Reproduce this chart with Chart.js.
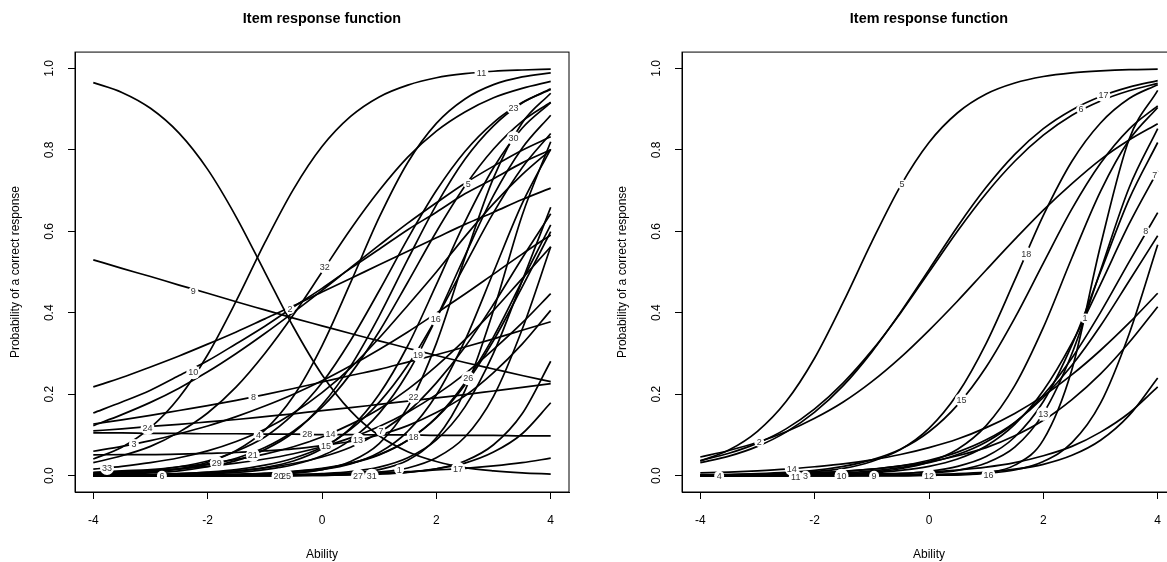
<!DOCTYPE html>
<html>
<head>
<meta charset="utf-8">
<script src="https://cdn.jsdelivr.net/npm/chart.js@4.4.1/dist/chart.umd.min.js"></script>
<style>
  html, body { margin: 0; padding: 0; background: #fff; }
  body { width: 1167px; height: 562px; overflow: hidden; position: relative; }
  canvas { position: absolute; top: 0; }
  #left { left: 0; }
  #right { left: 607px; }
</style>
</head>
<body>
<canvas id="left" width="583" height="562"></canvas>
<canvas id="right" width="583" height="562"></canvas>
<script>
const abilityGrid = [-4, -3.5, -3, -2.5, -2, -1.5, -1, -0.5, 0, 0.5, 1, 1.5, 2, 2.5, 3, 3.5, 4];
const xTicks = [-4, -2, 0, 2, 4];
const yTicks = [0, 0.2, 0.4, 0.6, 0.8, 1];

// left panel, items 1..33 (probability at each abilityGrid point)
const leftCurves = [
  [0.000, 0.000, 0.000, 0.000, 0.000, 0.000, 0.000, 0.001, 0.002, 0.004, 0.009, 0.019, 0.044, 0.095, 0.195, 0.359, 0.562], // 1
  [0.965, 0.941, 0.902, 0.841, 0.752, 0.635, 0.500, 0.365, 0.248, 0.159, 0.098, 0.059, 0.035, 0.020, 0.012, 0.007, 0.004], // 2
  [0.060, 0.072, 0.086, 0.103, 0.122, 0.145, 0.171, 0.200, 0.233, 0.270, 0.310, 0.353, 0.399, 0.446, 0.495, 0.544, 0.591], // 3
  [0.003, 0.005, 0.009, 0.017, 0.033, 0.062, 0.112, 0.195, 0.319, 0.474, 0.634, 0.769, 0.865, 0.925, 0.960, 0.979, 0.989], // 4
  [0.123, 0.150, 0.180, 0.215, 0.255, 0.300, 0.349, 0.401, 0.455, 0.511, 0.566, 0.620, 0.670, 0.718, 0.760, 0.799, 0.832], // 5
  [0.000, 0.000, 0.000, 0.000, 0.000, 0.000, 0.001, 0.002, 0.005, 0.010, 0.021, 0.044, 0.088, 0.169, 0.301, 0.478, 0.659], // 6
  [0.001, 0.002, 0.003, 0.005, 0.008, 0.012, 0.019, 0.030, 0.046, 0.070, 0.106, 0.157, 0.228, 0.316, 0.421, 0.534, 0.643], // 7
  [0.127, 0.137, 0.148, 0.160, 0.172, 0.185, 0.199, 0.214, 0.230, 0.246, 0.261, 0.279, 0.297, 0.316, 0.336, 0.357, 0.378], // 8
  [0.530, 0.509, 0.489, 0.468, 0.448, 0.427, 0.407, 0.387, 0.368, 0.349, 0.331, 0.313, 0.295, 0.278, 0.262, 0.246, 0.231], // 9
  [0.154, 0.181, 0.210, 0.246, 0.282, 0.324, 0.367, 0.414, 0.460, 0.509, 0.556, 0.604, 0.647, 0.692, 0.729, 0.768, 0.800], // 10
  [0.041, 0.070, 0.118, 0.192, 0.297, 0.429, 0.572, 0.703, 0.808, 0.882, 0.930, 0.959, 0.977, 0.987, 0.993, 0.996, 0.998], // 11
  [0.218, 0.241, 0.267, 0.294, 0.323, 0.353, 0.385, 0.417, 0.451, 0.484, 0.518, 0.551, 0.584, 0.617, 0.647, 0.678, 0.706], // 12
  [0.051, 0.052, 0.052, 0.053, 0.055, 0.057, 0.061, 0.066, 0.074, 0.084, 0.100, 0.123, 0.155, 0.196, 0.253, 0.323, 0.406], // 13
  [0.008, 0.012, 0.015, 0.022, 0.029, 0.040, 0.053, 0.071, 0.095, 0.126, 0.164, 0.212, 0.269, 0.334, 0.406, 0.484, 0.562], // 14
  [0.007, 0.010, 0.013, 0.017, 0.023, 0.031, 0.041, 0.054, 0.071, 0.093, 0.121, 0.156, 0.199, 0.250, 0.310, 0.375, 0.447], // 15
  [0.001, 0.002, 0.003, 0.005, 0.009, 0.015, 0.026, 0.043, 0.070, 0.114, 0.180, 0.271, 0.387, 0.517, 0.646, 0.756, 0.840], // 16
  [0.000, 0.001, 0.001, 0.001, 0.001, 0.002, 0.002, 0.003, 0.004, 0.006, 0.008, 0.010, 0.014, 0.018, 0.024, 0.032, 0.043], // 17
  [0.000, 0.000, 0.001, 0.001, 0.002, 0.004, 0.006, 0.011, 0.018, 0.031, 0.052, 0.087, 0.142, 0.223, 0.332, 0.463, 0.599], // 18
  [0.000, 0.001, 0.001, 0.002, 0.004, 0.008, 0.015, 0.027, 0.049, 0.088, 0.153, 0.252, 0.387, 0.540, 0.688, 0.804, 0.885], // 19
  [0.000, 0.000, 0.000, 0.000, 0.001, 0.002, 0.004, 0.007, 0.015, 0.029, 0.057, 0.109, 0.198, 0.332, 0.500, 0.668, 0.802], // 20
  [0.002, 0.004, 0.007, 0.012, 0.022, 0.037, 0.064, 0.106, 0.174, 0.269, 0.392, 0.531, 0.665, 0.777, 0.859, 0.915, 0.950], // 21
  [0.000, 0.000, 0.000, 0.000, 0.000, 0.001, 0.003, 0.006, 0.015, 0.035, 0.079, 0.169, 0.325, 0.535, 0.731, 0.866, 0.939], // 22
  [0.005, 0.008, 0.013, 0.022, 0.036, 0.060, 0.095, 0.151, 0.228, 0.332, 0.454, 0.582, 0.700, 0.796, 0.867, 0.916, 0.948], // 23
  [0.110, 0.115, 0.121, 0.126, 0.132, 0.138, 0.145, 0.152, 0.160, 0.167, 0.175, 0.183, 0.191, 0.199, 0.208, 0.217, 0.226], // 24
  [0.000, 0.000, 0.000, 0.000, 0.000, 0.000, 0.000, 0.001, 0.002, 0.006, 0.015, 0.038, 0.093, 0.209, 0.406, 0.639, 0.820], // 25
  [0.000, 0.000, 0.001, 0.001, 0.002, 0.003, 0.006, 0.010, 0.017, 0.030, 0.051, 0.087, 0.143, 0.228, 0.341, 0.478, 0.616], // 26
  [0.000, 0.000, 0.000, 0.000, 0.000, 0.000, 0.000, 0.001, 0.001, 0.003, 0.005, 0.009, 0.017, 0.031, 0.058, 0.103, 0.179], // 27
  [0.105, 0.105, 0.104, 0.104, 0.103, 0.103, 0.102, 0.102, 0.101, 0.101, 0.100, 0.100, 0.099, 0.099, 0.099, 0.098, 0.098], // 28
  [0.004, 0.006, 0.010, 0.016, 0.027, 0.043, 0.069, 0.109, 0.168, 0.250, 0.354, 0.475, 0.599, 0.711, 0.802, 0.870, 0.917], // 29
  [0.001, 0.001, 0.002, 0.003, 0.006, 0.011, 0.020, 0.036, 0.066, 0.117, 0.200, 0.319, 0.469, 0.623, 0.756, 0.853, 0.916], // 30
  [0.000, 0.000, 0.000, 0.000, 0.000, 0.000, 0.000, 0.000, 0.001, 0.002, 0.004, 0.008, 0.017, 0.036, 0.076, 0.152, 0.281], // 31
  [0.032, 0.049, 0.072, 0.107, 0.154, 0.218, 0.300, 0.395, 0.500, 0.605, 0.700, 0.782, 0.846, 0.893, 0.928, 0.951, 0.968], // 32
  [0.016, 0.023, 0.032, 0.044, 0.061, 0.084, 0.114, 0.154, 0.204, 0.265, 0.338, 0.418, 0.500, 0.587, 0.668, 0.739, 0.800]  // 33
];
const leftLabelText = ['11', '23', '30', '5', '32', '9', '2', '10', '8', '24', '3', '4', '28', '21', '29', '33', '6',
  '20', '25', '16', '19', '26', '22', '14', '15', '13', '7', '18', '27', '31', '1', '17'];
const leftLabelAbility = [2.79, 3.35, 3.35, 2.56, 0.05, -2.25, -0.56, -2.25, -1.2, -3.05, -3.29, -1.11, -0.26, -1.21, -1.84, -3.76, -2.8,
  -0.76, -0.63, 1.99, 1.68, 2.56, 1.6, 0.15, 0.07, 0.63, 1.03, 1.6, 0.63, 0.87, 1.35, 2.38];
const leftLabelProb = [0.989, 0.903, 0.829, 0.716, 0.513, 0.453, 0.409, 0.254, 0.192, 0.117, 0.078, 0.099, 0.103, 0.051, 0.031, 0.019, 0.0,
  0.0, 0.0, 0.385, 0.297, 0.239, 0.194, 0.103, 0.074, 0.088, 0.109, 0.096, 0.0, 0.0, 0.015, 0.017];

// right panel, items 1..18
const rightCurves = [
  [0.000, 0.000, 0.000, 0.000, 0.000, 0.000, 0.000, 0.000, 0.001, 0.002, 0.007, 0.026, 0.088, 0.261, 0.565, 0.826, 0.946], // 1
  [0.046, 0.062, 0.082, 0.108, 0.141, 0.181, 0.231, 0.290, 0.357, 0.429, 0.505, 0.580, 0.652, 0.717, 0.776, 0.824, 0.864], // 2
  [0.000, 0.000, 0.001, 0.001, 0.002, 0.003, 0.004, 0.006, 0.009, 0.014, 0.021, 0.032, 0.049, 0.072, 0.107, 0.154, 0.218], // 3
  [0.002, 0.003, 0.004, 0.005, 0.008, 0.011, 0.016, 0.024, 0.034, 0.049, 0.069, 0.098, 0.136, 0.187, 0.250, 0.327, 0.415], // 4
  [0.036, 0.063, 0.109, 0.182, 0.289, 0.426, 0.574, 0.711, 0.818, 0.891, 0.937, 0.964, 0.980, 0.989, 0.994, 0.997, 0.998], // 5
  [0.037, 0.055, 0.080, 0.115, 0.164, 0.228, 0.307, 0.399, 0.500, 0.601, 0.693, 0.772, 0.836, 0.885, 0.920, 0.945, 0.963], // 6
  [0.000, 0.000, 0.001, 0.001, 0.002, 0.004, 0.007, 0.013, 0.023, 0.041, 0.073, 0.126, 0.209, 0.326, 0.470, 0.618, 0.748], // 7
  [0.001, 0.001, 0.002, 0.003, 0.005, 0.007, 0.012, 0.020, 0.032, 0.052, 0.083, 0.130, 0.198, 0.289, 0.401, 0.525, 0.646], // 8
  [0.000, 0.000, 0.000, 0.000, 0.001, 0.001, 0.003, 0.005, 0.011, 0.023, 0.047, 0.095, 0.182, 0.321, 0.500, 0.679, 0.818], // 9
  [0.000, 0.000, 0.000, 0.001, 0.002, 0.004, 0.009, 0.017, 0.034, 0.065, 0.123, 0.221, 0.364, 0.535, 0.698, 0.824, 0.904], // 10
  [0.001, 0.002, 0.003, 0.004, 0.006, 0.010, 0.016, 0.024, 0.038, 0.058, 0.088, 0.131, 0.192, 0.271, 0.368, 0.478, 0.589], // 11
  [0.000, 0.000, 0.000, 0.000, 0.000, 0.000, 0.000, 0.000, 0.001, 0.002, 0.006, 0.014, 0.035, 0.081, 0.178, 0.348, 0.567], // 12
  [0.000, 0.000, 0.000, 0.000, 0.000, 0.000, 0.001, 0.002, 0.006, 0.013, 0.031, 0.070, 0.153, 0.300, 0.504, 0.707, 0.852], // 13
  [0.007, 0.009, 0.012, 0.016, 0.022, 0.029, 0.039, 0.052, 0.069, 0.090, 0.118, 0.153, 0.196, 0.248, 0.308, 0.375, 0.448], // 14
  [0.002, 0.003, 0.005, 0.008, 0.013, 0.023, 0.039, 0.065, 0.108, 0.174, 0.267, 0.387, 0.522, 0.655, 0.767, 0.851, 0.908], // 15
  [0.000, 0.000, 0.000, 0.000, 0.000, 0.000, 0.001, 0.001, 0.003, 0.005, 0.009, 0.016, 0.028, 0.050, 0.087, 0.148, 0.240], // 16
  [0.032, 0.048, 0.072, 0.107, 0.156, 0.221, 0.304, 0.401, 0.506, 0.612, 0.708, 0.789, 0.852, 0.898, 0.931, 0.954, 0.970], // 17
  [0.001, 0.001, 0.003, 0.005, 0.010, 0.018, 0.035, 0.064, 0.116, 0.201, 0.325, 0.480, 0.639, 0.772, 0.866, 0.926, 0.960]  // 18
];
const rightLabelText = ['5', '17', '6', '7', '8', '18', '2', '14', '4', '11', '3', '10', '9', '1', '15', '13', '12', '16'];
const rightLabelAbility = [-0.47, 3.05, 2.66, 3.95, 3.79, 1.7, -2.97, -2.4, -3.67, -2.33, -2.16, -1.53, -0.96, 2.73, 0.57, 2.0, 0.0, 1.04];
const rightLabelProb = [0.715, 0.934, 0.899, 0.738, 0.6, 0.544, 0.083, 0.017, 0.0, -0.004, 0.0, 0.0, 0.0, 0.386, 0.186, 0.152, 0.0, 0.002];

const FONT = '"Liberation Sans", Arial, Helvetica, sans-serif';
Chart.defaults.font.family = FONT;
Chart.defaults.color = '#000';

// box round the plot region, like R's box()
const plotBox = {
  id: 'plotBox',
  afterDatasetsDraw(chart) {
    const { ctx, chartArea: a } = chart;
    ctx.save();
    ctx.strokeStyle = '#000';
    ctx.lineWidth = 1;
    ctx.strokeRect(a.left, a.top, a.right - a.left, a.bottom - a.top);
    ctx.restore();
  }
};

// item numbers written on the white label points
const curveLabels = {
  id: 'curveLabels',
  afterDatasetsDraw(chart) {
    const ctx = chart.ctx;
    ctx.save();
    ctx.font = '9px ' + FONT;
    ctx.fillStyle = '#333';
    ctx.textAlign = 'center';
    ctx.textBaseline = 'middle';
    chart.data.datasets.forEach((ds, i) => {
      if (!ds.itemLabels) return;
      chart.getDatasetMeta(i).data.forEach((pt, j) => {
        ctx.fillText(ds.itemLabels[j], pt.x, pt.y + 0.5);
      });
    });
    ctx.restore();
  }
};

function makeChart(id, curves, labelText, labelAbility, labelProb) {
  const datasets = curves.map(vals => ({
    type: 'line',
    data: abilityGrid.map((x, i) => ({ x: x, y: vals[i] })),
    borderColor: '#000',
    borderWidth: 1.7,
    pointRadius: 0,
    fill: false,
    cubicInterpolationMode: 'monotone'
  }));
  datasets.push({
    type: 'scatter',
    order: -1,
    itemLabels: labelText,
    data: labelAbility.map((x, i) => ({ x: x, y: labelProb[i] })),
    pointRadius: ctx => (labelText[ctx.dataIndex].length > 1 ? 7 : 5),
    pointBackgroundColor: '#fff',
    pointBorderWidth: 0,
    borderWidth: 0
  });

  return new Chart(document.getElementById(id), {
    type: 'line',
    data: { datasets: datasets },
    plugins: [plotBox, curveLabels],
    options: {
      responsive: false,
      devicePixelRatio: 1,
      animation: false,
      events: [],
      layout: { padding: { left: 0, right: 14, top: 0, bottom: 0 } },
      plugins: {
        legend: { display: false },
        tooltip: { enabled: false },
        title: {
          display: true,
          text: 'Item response function',
          fullSize: false,
          color: '#000',
          font: { size: 14.4, weight: 'bold', lineHeight: 1.2 },
          padding: { top: 10.7, bottom: 24.1 }
        }
      },
      scales: {
        x: {
          type: 'linear',
          min: -4.32,
          max: 4.32,
          afterBuildTicks: s => { s.ticks = xTicks.map(v => ({ value: v })); },
          afterFit: s => { s.height = 70; },
          grid: { drawOnChartArea: false, drawTicks: true, tickLength: 7, tickColor: '#000' },
          border: { display: true, color: '#000' },
          ticks: { font: { size: 12 }, padding: 14, maxRotation: 0, callback: v => String(v) },
          title: { display: true, text: 'Ability', font: { size: 12 }, padding: { top: 0, bottom: 0 } }
        },
        y: {
          type: 'linear',
          min: -0.04,
          max: 1.04,
          afterBuildTicks: s => { s.ticks = yTicks.map(v => ({ value: v })); },
          afterFit: s => { s.width = 75; },
          grid: { drawOnChartArea: false, drawTicks: true, tickLength: 7, tickColor: '#000' },
          border: { display: true, color: '#000' },
          ticks: { font: { size: 12 }, padding: 9.7, minRotation: 90, maxRotation: 90, crossAlign: 'center',
                   callback: v => Number(v).toFixed(1) },
          title: { display: true, text: 'Probability of a correct response', font: { size: 12 },
                   padding: { top: 8.6, bottom: 0 } }
        }
      }
    }
  });
}

makeChart('left', leftCurves, leftLabelText, leftLabelAbility, leftLabelProb);
makeChart('right', rightCurves, rightLabelText, rightLabelAbility, rightLabelProb);
</script>
</body>
</html>
